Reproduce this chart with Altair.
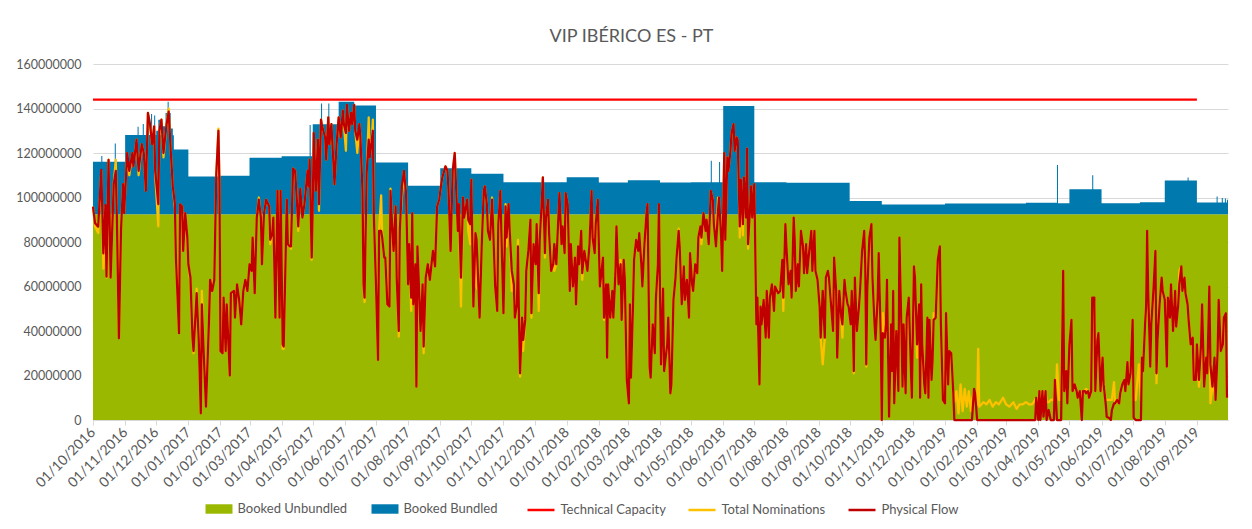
import altair as alt
import pandas as pd

# ---------------- data (values in million units, days counted from 01/10/2016) -------------
TITLE = "VIP IBÉRICO ES - PT"
START = "2016-10-01"

unbundled_level = 92.5          # Booked Unbundled (constant)
technical_capacity = 144.0      # Technical Capacity
capacity_days = [0, 1065]       # 01/10/2016 .. 01/09/2019

# Booked total (Unbundled + Bundled) step levels: (day, value)
booked_total = [
    (0, 116.1), (8, 118.6), (9, 116.1), (21, 124.3), (22, 116.1), (31, 128.1), (43, 131.8),
    (44, 128.1), (48, 133.0), (49, 128.1), (53, 136.3), (54, 128.1), (56, 137.5), (57, 128.1),
    (59, 136.8), (60, 128.1), (61, 130.0), (63, 135.0), (65, 128.0), (67, 132.0), (70, 138.0),
    (72, 143.0), (73, 138.0), (75, 131.0), (77, 128.0), (78, 121.6), (92, 109.4), (123, 109.8),
    (151, 117.9), (182, 118.5), (209, 132.6), (210, 118.5), (212, 132.9), (220, 142.3),
    (221, 132.9), (227, 142.3), (228, 132.9), (237, 143.0), (252, 141.3), (273, 115.7),
    (304, 105.3), (335, 113.1), (365, 110.7), (396, 106.8), (457, 109.1), (488, 106.7),
    (516, 107.7), (547, 106.7), (577, 106.8), (596, 116.5), (597, 106.8), (604, 116.0),
    (605, 106.8), (608, 141.1), (638, 106.9), (669, 106.6), (730, 98.4), (761, 96.9),
    (822, 97.3), (900, 97.6), (930, 114.6), (931, 97.4), (942, 103.7), (964, 110.0),
    (965, 103.7), (973, 97.4), (1010, 97.9), (1034, 107.6), (1056, 109.0), (1057, 107.6),
    (1065, 97.7), (1084, 100.4), (1085, 97.8), (1089, 99.8), (1090, 97.8), (1092, 99.6),
    (1093, 97.8), (1094, 99.0), (1095, 99.0),
]

# (day, physical flow, total nominations)
flows_2016q4 = [
    (0, 95.9, 95.9), (2, 88.4, 87), (5, 86.9, 84), (8, 112.4, 112), (10, 74.9, 68), (12, 96.6, 96),
    (13, 64.4, 64), (15, 116.9, 117), (17, 64, 64), (20, 106, 106), (22, 112, 117), (23, 92, 92),
    (25, 36.7, 36.7), (27, 85, 85), (29, 106, 106), (30, 93, 93), (33, 120, 120), (35, 112, 110),
    (38, 120, 120), (39, 114, 114), (42, 126, 126), (44, 112, 110), (47, 124, 124), (49, 120, 120),
    (51, 103, 103), (53, 138, 138), (55, 133, 133), (57, 124, 124), (59, 132, 132), (60, 112, 110),
    (63, 97, 87), (64, 130, 130), (66, 135, 135), (68, 120, 118), (71, 133, 133), (73, 138.6, 140),
    (75, 121, 121), (77, 105, 105), (79, 97, 95), (80, 73, 73), (83, 39, 39), (84, 97, 97),
    (86, 96, 96), (87, 76, 76), (89, 93, 93),
]
flows_2017q1 = [
    (91, 82, 80), (92, 70, 70), (94, 64, 62), (96, 37, 37), (97, 31, 30), (100, 57, 59),
    (102, 36, 36), (104, 3, 3), (105, 52, 58), (107, 28, 28), (109, 6, 6), (112, 46, 46),
    (113, 63, 63), (115, 58, 58), (117, 63, 64), (119, 111, 111), (121, 130, 131), (122, 106, 106),
    (123, 31, 31), (125, 30, 30), (126, 55, 55), (128, 31, 31), (129, 52, 52), (132, 20, 20),
    (133, 57, 57), (136, 58, 58), (137, 46, 46), (139, 61, 61), (141, 54, 54), (143, 43, 43),
    (145, 58, 58), (147, 63, 63), (149, 58, 58), (151, 70, 70), (153, 67, 67), (154, 82, 82),
    (156, 57, 57), (158, 91, 91), (160, 99, 100), (162, 91, 91), (163, 70, 70), (165, 93, 93),
    (167, 99, 99), (170, 96, 96), (171, 81, 79), (173, 84, 84), (174, 91, 91), (176, 46, 46),
    (178, 103, 103), (180, 46, 46),
]
flows_2017q2 = [
    (181, 103, 103), (183, 34, 32), (184, 33, 32), (187, 99, 99), (188, 79, 79), (190, 78, 78),
    (191, 78, 77), (193, 113, 113), (195, 112, 112), (197, 96, 96), (198, 87, 85), (200, 104, 104),
    (202, 91, 91), (204, 97, 97), (205, 102, 102), (207, 112, 112), (208, 105, 105), (209, 117, 117),
    (211, 73, 72), (212, 96, 96), (213, 129, 129), (215, 103, 103), (217, 126, 126), (218, 97, 94),
    (220, 135, 135), (221, 132, 132), (224, 127, 127), (225, 117, 117), (227, 136, 136),
    (228, 124, 124), (230, 133, 133), (232, 115, 115), (233, 106, 106), (235, 124, 124),
    (237, 136, 136), (239, 127, 127), (241, 139, 139), (242, 133, 133), (244, 129, 121),
    (245, 141.6, 141.6), (247, 130, 130), (249, 138, 138), (250, 133, 133), (252, 141.6, 141.6),
    (253, 130, 130), (255, 126, 120), (257, 133, 133), (258, 127, 127), (260, 103, 103),
    (261, 61, 61), (262, 55, 53), (264, 111, 111), (266, 126, 136), (267, 118, 118),
    (269, 126, 126), (270, 130, 135), (271, 91, 91),
]
flows_2017q3 = [
    (273, 61, 61), (275, 27, 27), (276, 85, 85), (278, 85, 101), (279, 82, 82), (281, 73, 73),
    (282, 73, 73), (284, 52, 52), (286, 51, 51), (287, 103, 104), (289, 84, 84), (290, 76, 76),
    (292, 96, 96), (293, 64, 64), (295, 40, 37.5), (296, 85, 85), (298, 105, 100), (300, 112, 112),
    (302, 102, 102), (304, 61, 61), (305, 79, 79), (307, 55, 49), (308, 93, 93), (309, 52, 52),
    (311, 70, 70), (312, 15, 15), (313, 78, 78), (314, 66, 66), (316, 40, 40), (318, 61, 61),
    (319, 33, 30), (321, 64, 64), (323, 70, 70), (325, 63, 63), (327, 72, 72), (328, 76, 76),
    (330, 69, 69), (332, 96, 96), (334, 99, 99), (336, 106, 106), (337, 109, 109), (340, 114, 114),
    (342, 112, 112), (343, 103, 103), (345, 76, 76), (347, 112, 112), (349, 120, 120),
    (350, 108, 108), (352, 85, 85), (353, 97, 97), (355, 64, 51), (357, 100, 100), (358, 91, 91),
    (361, 99, 99), (362, 90, 85),
]
flows_2017q4 = [
    (364, 88, 79), (365, 108, 108), (367, 51, 51), (369, 84, 84), (370, 81, 60), (372, 58, 58),
    (373, 46, 46), (375, 78, 78), (377, 103, 103), (378, 105, 105), (380, 97, 97), (381, 85, 85),
    (383, 81, 81), (385, 99, 100), (386, 87, 87), (388, 60, 60), (390, 49, 49), (391, 88, 88),
    (393, 103, 103), (394, 84, 84), (396, 48, 48), (398, 96, 97), (399, 82, 78), (401, 97, 97),
    (402, 85, 85), (404, 67, 58), (406, 61, 61), (407, 46, 46), (409, 52, 52), (410, 78, 81),
    (411, 45, 45), (412, 21, 19.5), (414, 46, 46), (415, 36, 31), (417, 45, 45), (418, 67, 67),
    (420, 76, 76), (422, 90, 90), (423, 48, 46), (425, 79, 79), (427, 70, 70), (428, 88, 88),
    (430, 57, 49), (431, 81, 81), (433, 99, 99), (434, 109, 109), (436, 75, 73), (437, 91, 91),
    (439, 99, 99), (440, 84, 84), (442, 67, 67), (444, 70, 70), (445, 79, 67), (447, 70, 70),
    (448, 81, 81), (450, 102, 102), (452, 79, 79), (453, 87, 87), (455, 75, 75),
]
flows_2018q1 = [
    (456, 102, 102), (458, 97, 97), (460, 58, 58), (461, 79, 79), (463, 60, 60), (465, 73, 73),
    (466, 52, 52), (468, 78, 78), (469, 70, 70), (471, 85, 85), (472, 66, 63), (474, 76, 76),
    (475, 73, 73), (477, 67, 67), (479, 79, 79), (481, 103, 103), (482, 82, 82), (484, 75, 75),
    (485, 88, 88), (487, 99, 99), (489, 60, 60), (490, 64, 64), (492, 73, 73), (493, 46, 45),
    (495, 61, 61), (496, 28, 28), (497, 61, 61), (499, 46, 46), (501, 58, 58), (502, 46, 46),
    (504, 66, 66), (505, 87, 87), (507, 61, 61), (509, 70, 72), (510, 45, 45), (512, 72, 72),
    (513, 64, 64), (515, 18, 18), (517, 7.5, 7.5), (518, 52, 52), (519, 19, 19), (521, 52, 52),
    (522, 72, 72), (524, 81, 81), (526, 76, 76), (527, 84, 84), (529, 70, 70), (530, 60, 60),
    (532, 79, 79), (534, 93, 93), (535, 97, 97), (537, 24, 24), (538, 19, 19), (540, 43, 43),
    (542, 30, 30), (543, 54, 54), (545, 70, 70),
]
flows_2018q2 = [
    (546, 97, 97), (547, 58, 58), (548, 25, 25), (550, 59, 59), (551, 22, 22), (554, 34, 34),
    (555, 46, 46), (557, 12, 12), (558, 16, 16), (560, 54, 54), (562, 64, 64), (563, 73, 73),
    (565, 85, 86), (566, 78, 78), (568, 52, 52), (570, 69, 69), (571, 54, 54), (573, 63, 63),
    (575, 46, 46), (576, 75, 75), (578, 61, 61), (579, 58, 58), (581, 70, 70), (583, 66, 66),
    (584, 82, 82), (586, 87, 87), (587, 82, 79), (589, 93, 93), (591, 85, 85), (592, 90, 90),
    (594, 79, 79), (595, 90, 90), (596, 103, 103), (598, 99, 99), (599, 88, 88), (601, 78, 78),
    (603, 94, 100), (604, 100, 100), (606, 82, 82), (607, 67, 67), (609, 120, 120), (610, 81, 81),
    (612, 118, 118), (613, 112, 112), (615, 121, 121), (616, 129, 129), (618, 133, 133),
    (619, 121, 121), (621, 127, 127), (622, 126, 126), (624, 87, 82), (625, 108, 108),
    (627, 88, 83), (628, 109, 109), (630, 91, 91), (631, 122, 122), (632, 79, 77), (634, 96, 96),
    (635, 105, 105), (636, 91, 91),
]
flows_2018q3 = [
    (638, 106, 106), (640, 43, 43), (641, 55, 55), (643, 16, 16), (644, 51, 51), (645, 43, 43),
    (647, 54, 54), (649, 37, 37), (650, 58, 58), (652, 37, 37), (653, 55, 55), (655, 61, 61),
    (657, 49, 49), (658, 60, 60), (660, 58, 58), (661, 57, 57), (663, 58, 58), (665, 72, 72),
    (666, 55, 49), (668, 88, 88), (669, 78, 78), (671, 61, 61), (673, 67, 67), (674, 55, 55),
    (676, 91, 91), (677, 81, 81), (678, 58, 58), (680, 70, 70), (681, 60, 60), (683, 85, 85),
    (685, 78, 78), (686, 66, 66), (688, 79, 79), (689, 66, 66), (691, 76, 76), (693, 85, 85),
    (694, 67, 67), (696, 85, 85), (697, 67, 67), (699, 63, 63), (701, 51, 51), (702, 37, 37),
    (704, 58, 25), (706, 37, 37), (707, 64, 64), (709, 67, 67), (710, 64, 64), (712, 52, 52),
    (714, 40, 40), (715, 73, 73), (717, 58, 58), (718, 28, 28), (720, 58, 58), (722, 46, 46),
    (723, 43, 37), (725, 63, 63), (726, 58, 58), (728, 52, 52),
]
flows_2018q4 = [
    (729, 51, 51), (731, 43, 43), (732, 58, 58), (733, 46, 46), (734, 22, 21), (735, 64, 64),
    (737, 40, 40), (739, 51, 51), (740, 58, 58), (742, 76, 76), (744, 85, 85), (745, 70, 70),
    (746, 25, 24), (747, 58, 58), (749, 82, 82), (751, 88, 88), (752, 64, 64), (754, 43, 43),
    (755, 36, 36), (757, 55, 55), (758, 75, 75), (760, 37, 37), (761, 0, 0), (762, 39, 48),
    (764, 37, 37), (765, 43, 43), (766, 63, 63), (768, 1.5, 1.5), (770, 43, 43), (771, 22, 22),
    (772, 58, 58), (773, 7.5, 7.5), (775, 40, 40), (777, 13, 13), (778, 82, 82), (780, 40, 42),
    (781, 15, 15), (782, 43, 43), (784, 12, 12), (785, 46, 46), (787, 55, 55), (789, 24, 24),
    (790, 10, 10), (792, 69, 69), (793, 64, 64), (795, 34, 28), (797, 52, 52), (798, 10, 10),
    (799, 61, 61), (800, 34, 34), (802, 16, 16), (803, 12, 12), (805, 46, 46), (806, 10, 10),
    (807, 45, 45), (809, 18, 18), (810, 27, 27), (811, 45, 48), (813, 46, 46), (815, 72, 72),
    (817, 78, 78), (818, 43, 43), (820, 9, 9),
]
flows_2019q1 = [
    (822, 7.5, 7.5), (823, 48, 48), (825, 16, 16), (826, 31, 31), (828, 30, 30), (830, 12, 12),
    (831, 0, 8), (833, 0, 13), (835, 0, 3), (837, 0, 16), (839, 0, 4), (841, 0, 14), (843, 0, 6),
    (845, 0, 13), (847, 0, 4), (848, 0, 9), (850, 14, 13), (851, 12, 12), (853, 0, 7),
    (854, 0, 32), (855, 0, 6), (859, 0, 8), (862, 0, 7), (865, 0, 9), (868, 0, 6), (871, 0, 8),
    (874, 0, 7), (878, 0, 10), (881, 0, 7), (884, 0, 6), (888, 0, 8), (891, 0, 5), (894, 0, 7),
    (897, 0, 7), (900, 0, 8), (903, 0, 7), (906, 0, 7), (909, 0, 9), (910, 10, 10),
]
flows_2019q2 = [
    (912, 0, 3), (913, 13, 13), (914, 0, 5), (916, 13, 13), (917, 1.5, 5), (919, 13, 13),
    (920, 0, 8), (922, 4.5, 8), (924, 0, 9), (927, 0, 9), (928, 18, 18), (929, 9, 9), (930, 0, 25),
    (932, 0, 9), (934, 0, 9), (936, 67, 67), (937, 13, 13), (939, 22, 22), (940, 7.5, 9),
    (942, 34, 34), (944, 45, 45), (945, 13, 13), (947, 16, 16), (949, 13, 13), (950, 10, 10),
    (952, 13, 13), (954, 0, 9), (955, 13, 13), (957, 13, 13), (958, 12, 14), (960, 13, 13),
    (961, 10, 10), (963, 13, 13), (964, 55, 55), (966, 55, 53), (967, 13, 13), (969, 36, 36),
    (970, 39, 39), (972, 13, 13), (974, 28, 28), (975, 16, 16), (977, 7.5, 9), (978, 1.5, 9),
    (980, 1, 9), (982, 0, 9), (983, 4.5, 9), (985, 7.5, 17), (986, 7.5, 7.5), (988, 9, 9),
    (990, 7.5, 7.5), (991, 12, 12), (993, 16, 16), (995, 18, 18), (996, 13, 13), (998, 26, 26),
    (999, 16, 16), (1001, 21, 21),
]
flows_2019q3 = [
    (1003, 45, 45), (1004, 1, 9), (1006, 0, 9), (1009, 0, 25), (1011, 0, 9), (1012, 28, 28),
    (1013, 22, 22), (1015, 43, 43), (1016, 51, 51), (1017, 85, 85), (1018, 58, 58), (1020, 24, 24),
    (1021, 43, 43), (1023, 58, 58), (1025, 76, 76), (1026, 21, 16.5), (1027, 36, 36),
    (1029, 52, 52), (1031, 64, 64), (1032, 58, 58), (1034, 54, 54), (1036, 24, 24), (1037, 55, 55),
    (1039, 46, 46), (1040, 61, 61), (1042, 40, 40), (1044, 58, 58), (1045, 42, 42), (1047, 52, 52),
    (1048, 61, 67), (1050, 69, 69), (1051, 58, 58), (1053, 64, 64), (1054, 57, 57), (1056, 52, 52),
    (1057, 45, 45), (1059, 34, 34), (1061, 37, 37), (1062, 18, 18), (1064, 18, 18), (1065, 34, 34),
    (1067, 18, 15), (1069, 34, 34), (1070, 52, 52), (1072, 15, 15), (1074, 28, 28), (1075, 21, 21),
    (1077, 60, 60), (1078, 25, 7.5), (1080, 15, 15), (1082, 28, 13), (1083, 9, 9), (1085, 31, 31),
    (1086, 54, 54), (1088, 31, 31), (1090, 34, 34), (1091, 46, 46), (1093, 48, 48), (1094, 10, 10),
]

SERIES = ["Booked Unbundled", "Booked Bundled", "Technical Capacity", "Total Nominations", "Physical Flow"]
COLORS = ["#9BB800", "#0079AE", "#FF0000", "#FFC000", "#C00000"]

# ---------------- tables -------------
base = pd.Timestamp(START)
M = 1_000_000


def to_date(days):
    return (base + pd.to_timedelta(list(days), unit="D")).strftime("%Y-%m-%dT00:00:00")


booked = pd.DataFrame(booked_total, columns=["day", "total"])
booked["date"] = to_date(booked["day"])
booked["total"] = booked["total"] * M
booked["unbundled"] = unbundled_level * M

flows = pd.DataFrame(
    flows_2016q4 + flows_2017q1 + flows_2017q2 + flows_2017q3 + flows_2017q4 + flows_2018q1
    + flows_2018q2 + flows_2018q3 + flows_2018q4 + flows_2019q1 + flows_2019q2 + flows_2019q3,
    columns=["day", "flow", "nom"],
)
flows["date"] = to_date(flows["day"])
flows["flow"] = flows["flow"] * M
flows["nom"] = flows["nom"] * M

cap = pd.DataFrame({"day": capacity_days})
cap["date"] = to_date(cap["day"])
cap["value"] = technical_capacity * M

month_ticks = [alt.DateTime(year=d.year, month=d.month, date=1)
               for d in pd.date_range(START, periods=36, freq="MS")]

FONT = "Lato"
GREY = "#595959"

x_enc = alt.X(
    "date:T",
    scale=alt.Scale(domain=[alt.DateTime(year=2016, month=10, date=1),
                            alt.DateTime(year=2019, month=10, date=1)], nice=False),
    axis=alt.Axis(values=month_ticks, format="%d/%m/%Y", labelAngle=315, title=None,
                  grid=False, domainColor="#D9D9D9", tickColor="#D9D9D9", tickSize=5,
                  labelColor=GREY, labelFontSize=14, labelFont=FONT, labelPadding=5,
                  labelBaseline="middle", labelAlign="right", labelOverlap=False),
)
y_scale = alt.Scale(domain=[0, 160 * M], nice=False)
y_axis = alt.Axis(values=[i * 20 * M for i in range(9)], format="d", title=None,
                  grid=True, gridColor="#D9D9D9", domain=False, ticks=False,
                  labelColor=GREY, labelFontSize=12.5, labelFont=FONT, labelPadding=12)

fill_scale = alt.Scale(domain=SERIES[:2], range=COLORS[:2])
stroke_scale = alt.Scale(domain=SERIES[2:], range=COLORS[2:])
fill_legend = alt.Legend(title=None, orient="none", legendX=119, legendY=438,
                         direction="horizontal",
                         symbolType="M-2,-0.7H2V0.7H-2Z", symbolSize=182, symbolStrokeWidth=0,
                         labelOffset=11.5, columnPadding=23, labelFontSize=13, labelFont=FONT,
                         labelColor=GREY, symbolOpacity=1)
stroke_legend = alt.Legend(title=None, orient="none", legendX=440, legendY=438,
                           direction="horizontal",
                           symbolType="M-2,0H2", symbolSize=182, symbolStrokeWidth=2.5,
                           labelOffset=11.5, columnPadding=17, labelFontSize=13, labelFont=FONT,
                           labelColor=GREY)

green = alt.Chart(booked).transform_calculate(series="'Booked Unbundled'").mark_area(
    interpolate="step-after", opacity=1).encode(
    x=x_enc,
    y=alt.Y("unbundled:Q", scale=y_scale, axis=y_axis),
    fill=alt.Fill("series:N", scale=fill_scale, legend=fill_legend),
)
blue = alt.Chart(booked).transform_calculate(series="'Booked Bundled'").mark_area(
    interpolate="step-after", opacity=1).encode(
    x=x_enc,
    y=alt.Y("total:Q", scale=y_scale, axis=y_axis),
    y2="unbundled:Q",
    fill=alt.Fill("series:N", scale=fill_scale, legend=fill_legend),
)
capacity = alt.Chart(cap).transform_calculate(series="'Technical Capacity'").mark_line(
    strokeWidth=2.25).encode(
    x=x_enc, y=alt.Y("value:Q", scale=y_scale, axis=y_axis),
    stroke=alt.Stroke("series:N", scale=stroke_scale, legend=stroke_legend),
)
noms = alt.Chart(flows).transform_calculate(series="'Total Nominations'").mark_line(
    strokeWidth=2.25, strokeJoin="round").encode(
    x=x_enc, y=alt.Y("nom:Q", scale=y_scale, axis=y_axis),
    stroke=alt.Stroke("series:N", scale=stroke_scale, legend=stroke_legend),
)
flow = alt.Chart(flows).transform_calculate(series="'Physical Flow'").mark_line(
    strokeWidth=2.25, strokeJoin="round").encode(
    x=x_enc, y=alt.Y("flow:Q", scale=y_scale, axis=y_axis),
    stroke=alt.Stroke("series:N", scale=stroke_scale, legend=stroke_legend),
)

chart = alt.layer(green, blue, capacity, noms, flow).properties(
    width=1135, height=356,
    title=alt.TitleParams(TITLE, font=FONT, fontSize=18, fontWeight="normal", color=GREY,
                          offset=12, dx=-29),
    autosize=alt.AutoSizeParams(type="none"),
    padding={"left": 85, "top": 56, "right": 10, "bottom": 96},
    view=alt.ViewBackground(stroke="transparent", strokeWidth=0),
).configure_view(stroke="transparent", strokeWidth=0).configure_axisY(
    domain=False).configure(background="white")

chart.save("out.html", embed_options={"renderer": "svg", "actions": False})
